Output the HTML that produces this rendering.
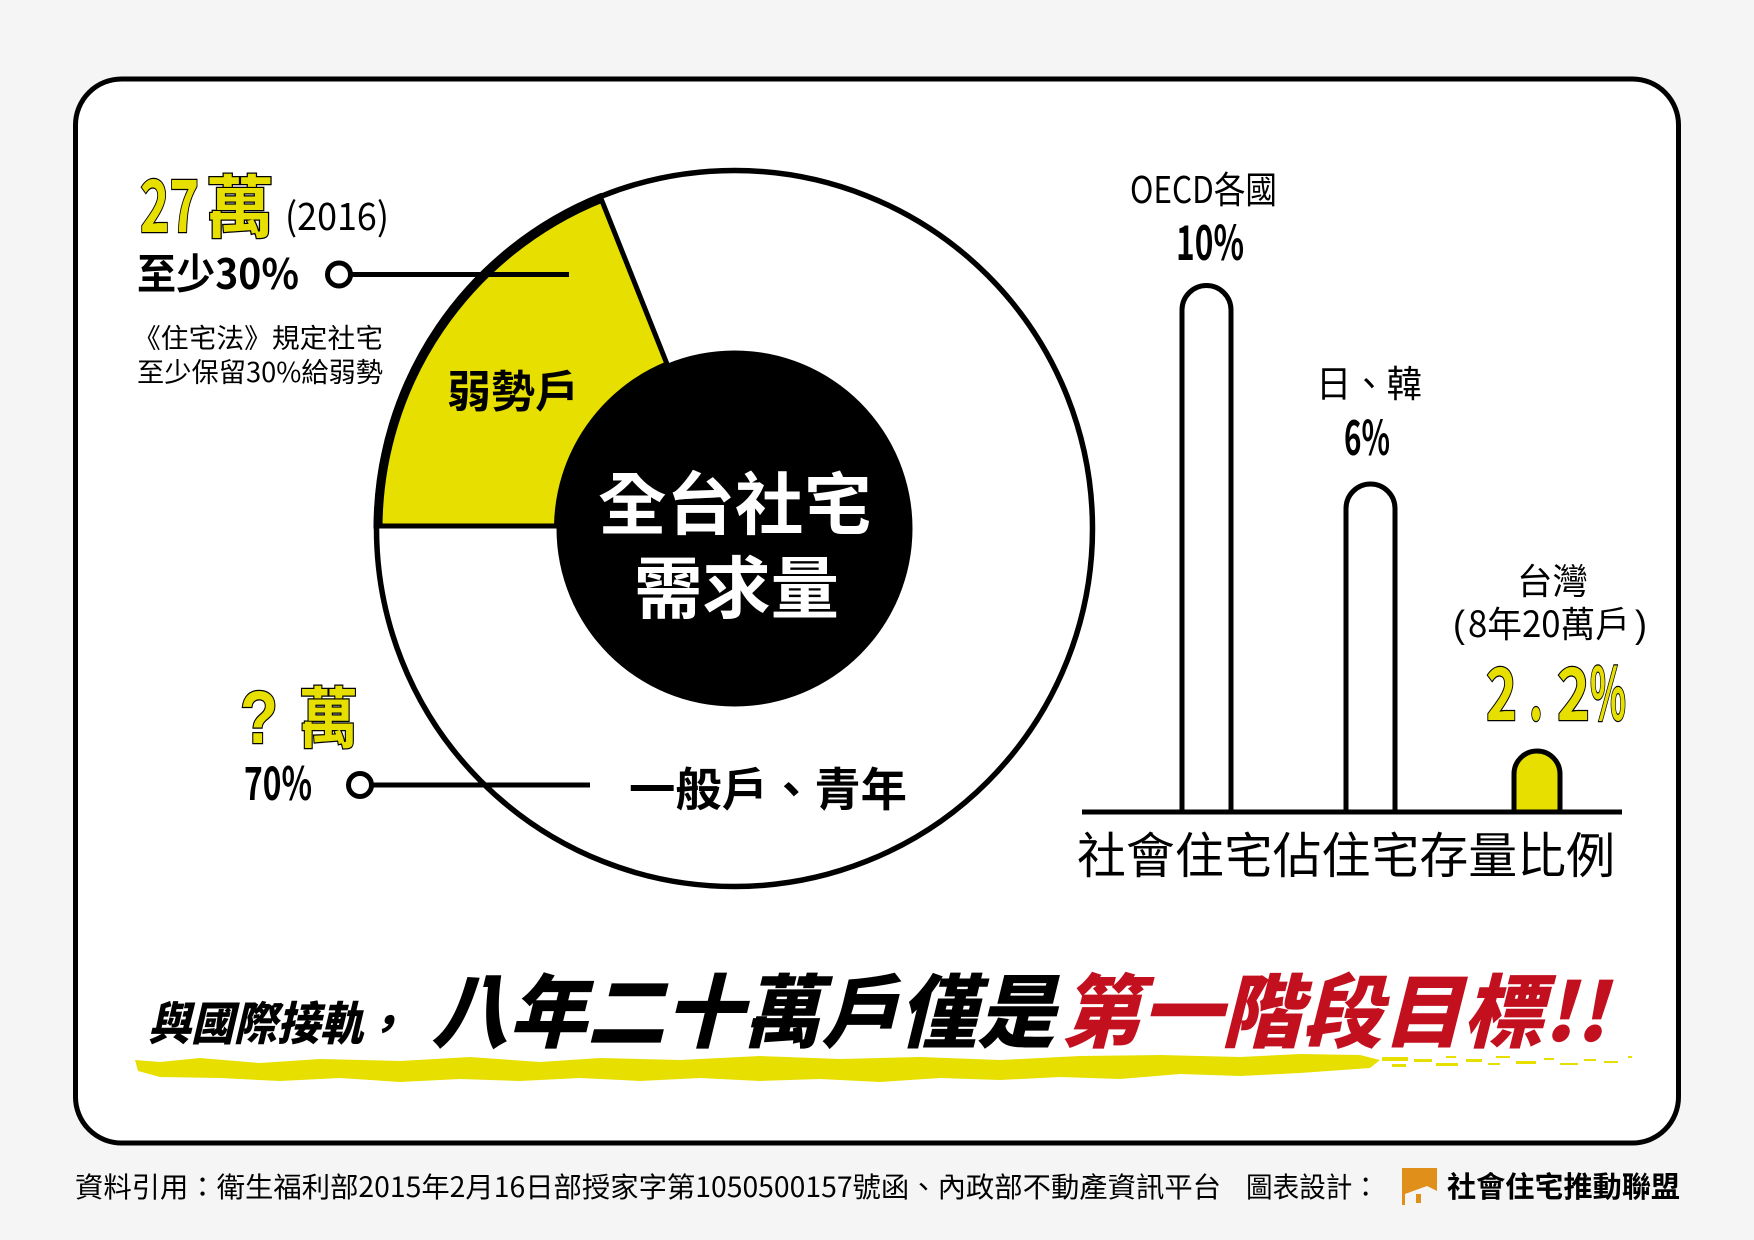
<!DOCTYPE html>
<html>
<head>
<meta charset="utf-8">
<style>
html,body{margin:0;padding:0;background:#f5f5f5;}
svg{display:block;}
text{font-family:"Liberation Sans","Noto Sans CJK TC",sans-serif;}
.cjk{font-family:"Noto Sans CJK TC","Liberation Sans",sans-serif;}
</style>
</head>
<body>
<svg width="1754" height="1240" viewBox="0 0 1754 1240" xmlns="http://www.w3.org/2000/svg">
  <rect x="0" y="0" width="1754" height="1240" fill="#f5f5f5"/>
  <!-- card -->
  <rect x="75.5" y="79" width="1603" height="1064" rx="46" ry="46" fill="#ffffff" stroke="#000" stroke-width="5"/>

  <!-- donut -->
  <circle cx="734.5" cy="528.5" r="358" fill="#fff" stroke="#000" stroke-width="5.5"/>
  <path d="M 376 526 A 358.5 358.5 0 0 1 600 196 L 667 364 A 178 178 0 0 0 556.5 526 Z" fill="#e6df00" stroke="#000" stroke-width="5" stroke-linejoin="miter"/>
  <path d="M 378.5 526 A 356 356 0 0 1 601 199" fill="none" stroke="#000" stroke-width="8"/>
  <circle cx="734.5" cy="528.5" r="178" fill="#000"/>

  <!-- leader lines -->
  <line x1="352" y1="274.5" x2="569" y2="274.5" stroke="#000" stroke-width="5"/>
  <circle cx="339" cy="274.5" r="11.5" fill="#fff" stroke="#000" stroke-width="5"/>
  <line x1="372" y1="785" x2="590" y2="785" stroke="#000" stroke-width="5"/>
  <circle cx="360" cy="785" r="11.5" fill="#fff" stroke="#000" stroke-width="5"/>

  <!-- left texts -->
  <text class="cjk" x="140" y="232" font-size="72" font-weight="700" fill="#e6df00" stroke="#000" stroke-width="2.5" paint-order="stroke" textLength="59" lengthAdjust="spacingAndGlyphs">27</text>
  <text class="cjk" x="206" y="232" font-size="68" font-weight="700" fill="#e6df00" stroke="#000" stroke-width="2.5" paint-order="stroke" textLength="68" lengthAdjust="spacingAndGlyphs">萬</text>
  <text class="cjk" x="285" y="230" font-size="38" font-weight="400" fill="#000" textLength="104" lengthAdjust="spacingAndGlyphs">(2016)</text>
  <text class="cjk" x="137" y="289" font-size="42" font-weight="700" fill="#000" textLength="162" lengthAdjust="spacingAndGlyphs">至少30%</text>
  <text class="cjk" x="133" y="348" font-size="27" fill="#000" textLength="250" lengthAdjust="spacingAndGlyphs">《住宅法》規定社宅</text>
  <text class="cjk" x="137" y="382" font-size="27" fill="#000" textLength="246" lengthAdjust="spacingAndGlyphs">至少保留30%給弱勢</text>

  <text class="cjk" x="447" y="407" font-size="44" font-weight="700" fill="#000" textLength="132" lengthAdjust="spacingAndGlyphs">弱勢戶</text>

  <text class="cjk" x="598" y="529" font-size="68" font-weight="700" fill="#fff" textLength="274" lengthAdjust="spacingAndGlyphs">全台社宅</text>
  <text class="cjk" x="634" y="613" font-size="68" font-weight="700" fill="#fff" textLength="205" lengthAdjust="spacingAndGlyphs">需求量</text>

  <text x="240" y="743" font-family="Liberation Sans" font-size="74" font-weight="700" fill="#e6df00" stroke="#000" stroke-width="2.5" paint-order="stroke" textLength="38" lengthAdjust="spacingAndGlyphs">?</text>
  <text class="cjk" x="299" y="742" font-size="66" font-weight="700" fill="#e6df00" stroke="#000" stroke-width="2.5" paint-order="stroke" textLength="59" lengthAdjust="spacingAndGlyphs">萬</text>
  <text class="cjk" x="244" y="800" font-size="46" font-weight="700" fill="#000" textLength="68" lengthAdjust="spacingAndGlyphs">70%</text>
  <text class="cjk" x="629" y="806" font-size="46" font-weight="700" fill="#000" textLength="278" lengthAdjust="spacingAndGlyphs">一般戶、青年</text>

  <!-- bars -->
  <path d="M 1182 812 V 310 A 24.5 24.5 0 0 1 1231 310 V 812" fill="#fff" stroke="#000" stroke-width="5"/>
  <path d="M 1346 812 V 508.5 A 24.5 24.5 0 0 1 1395 508.5 V 812" fill="#fff" stroke="#000" stroke-width="5"/>
  <path d="M 1514 812 V 774 A 23 23 0 0 1 1560 774 V 812" fill="#e6df00" stroke="#000" stroke-width="5"/>
  <line x1="1082" y1="812" x2="1622" y2="812" stroke="#000" stroke-width="5"/>

  <text class="cjk" x="1130" y="203" font-size="37" fill="#000" textLength="147" lengthAdjust="spacingAndGlyphs">OECD各國</text>
  <text class="cjk" x="1176" y="260" font-size="48" font-weight="700" fill="#000" textLength="68" lengthAdjust="spacingAndGlyphs">10%</text>
  <text class="cjk" x="1316" y="397" font-size="37" fill="#000" textLength="106" lengthAdjust="spacingAndGlyphs">日、韓</text>
  <text class="cjk" x="1344" y="455" font-size="48" font-weight="700" fill="#000" textLength="46" lengthAdjust="spacingAndGlyphs">6%</text>
  <text class="cjk" x="1517" y="594" font-size="36" fill="#000" textLength="71" lengthAdjust="spacingAndGlyphs">台灣</text>
  <text x="1453" y="637" font-family="Liberation Sans" font-size="38" fill="#000" textLength="12" lengthAdjust="spacingAndGlyphs">(</text>
  <text class="cjk" x="1468" y="637" font-size="36" fill="#000" textLength="162" lengthAdjust="spacingAndGlyphs">8年20萬戶</text>
  <text x="1635" y="637" font-family="Liberation Sans" font-size="38" fill="#000" textLength="12" lengthAdjust="spacingAndGlyphs">)</text>
  <g font-size="72" font-weight="700" fill="#e6df00" stroke="#000" stroke-width="2.5" paint-order="stroke">
    <text class="cjk" x="1486" y="720" textLength="31" lengthAdjust="spacingAndGlyphs">2</text>
    <text class="cjk" x="1529" y="720" textLength="14" lengthAdjust="spacingAndGlyphs">.</text>
    <text class="cjk" x="1557" y="720" textLength="33" lengthAdjust="spacingAndGlyphs">2</text>
    <text class="cjk" x="1590" y="720" textLength="36" lengthAdjust="spacingAndGlyphs">%</text>
  </g>
  <text class="cjk" x="1077" y="873" font-size="49" fill="#000" textLength="538" lengthAdjust="spacingAndGlyphs">社會住宅佔住宅存量比例</text>

  <!-- brush stroke -->
  <path d="M135 1060 L160 1062 L200 1058 L260 1063 L320 1059 L400 1061 L470 1057 L540 1062 L600 1058 L680 1060 L760 1056 L840 1059 L920 1057 L1000 1060 L1080 1056 L1160 1055 L1240 1057 L1300 1054 L1360 1055 L1380 1060 L1370 1068 L1300 1073 L1240 1076 L1180 1074 L1120 1079 L1060 1077 L1000 1080 L940 1078 L880 1082 L820 1079 L760 1081 L700 1078 L640 1081 L580 1078 L520 1081 L460 1079 L400 1082 L340 1078 L280 1081 L220 1078 L160 1077 L138 1071 Z" fill="#e6df00"/>
  <g fill="#e6df00">
    <rect x="1382" y="1057" width="26" height="4"/>
    <rect x="1392" y="1064" width="14" height="3"/>
    <rect x="1414" y="1059" width="18" height="3"/>
    <rect x="1436" y="1063" width="22" height="3"/>
    <rect x="1446" y="1056" width="10" height="2"/>
    <rect x="1466" y="1059" width="16" height="3"/>
    <rect x="1488" y="1063" width="12" height="2"/>
    <rect x="1496" y="1056" width="14" height="2"/>
    <rect x="1516" y="1061" width="20" height="3"/>
    <rect x="1544" y="1058" width="10" height="2"/>
    <rect x="1560" y="1063" width="18" height="2"/>
    <rect x="1584" y="1059" width="12" height="2"/>
    <rect x="1604" y="1061" width="14" height="2"/>
    <rect x="1628" y="1056" width="4" height="2"/>
  </g>

  <!-- title -->
  <g font-style="italic" font-weight="900">
    <text class="cjk" x="148" y="1040" font-size="46" fill="#000" textLength="258" lengthAdjust="spacingAndGlyphs">與國際接軌，</text>
    <text class="cjk" x="431" y="1041" font-size="80" fill="#000" textLength="624" lengthAdjust="spacingAndGlyphs">八年二十萬戶僅是</text>
    <text class="cjk" x="1061" y="1041" font-size="80" fill="#c2101f" textLength="546" lengthAdjust="spacingAndGlyphs">第一階段目標!!</text>
  </g>

  <!-- footer -->
  <text class="cjk" x="75" y="1197" font-size="28" fill="#000" textLength="1146" lengthAdjust="spacingAndGlyphs">資料引用：衛生福利部2015年2月16日部授家字第1050500157號函、內政部不動產資訊平台</text>
  <text class="cjk" x="1246" y="1197" font-size="28" fill="#000" textLength="133" lengthAdjust="spacingAndGlyphs">圖表設計：</text>
  <path d="M1402 1168 H1437 V1191 L1427 1186 L1405 1194 V1205 H1402 Z" fill="#e0901a"/>
  <rect x="1416" y="1194" width="5" height="9" fill="#e0901a"/>
  <text class="cjk" x="1447" y="1197" font-size="29" font-weight="700" fill="#000" textLength="233" lengthAdjust="spacingAndGlyphs">社會住宅推動聯盟</text>
</svg>
</body>
</html>
